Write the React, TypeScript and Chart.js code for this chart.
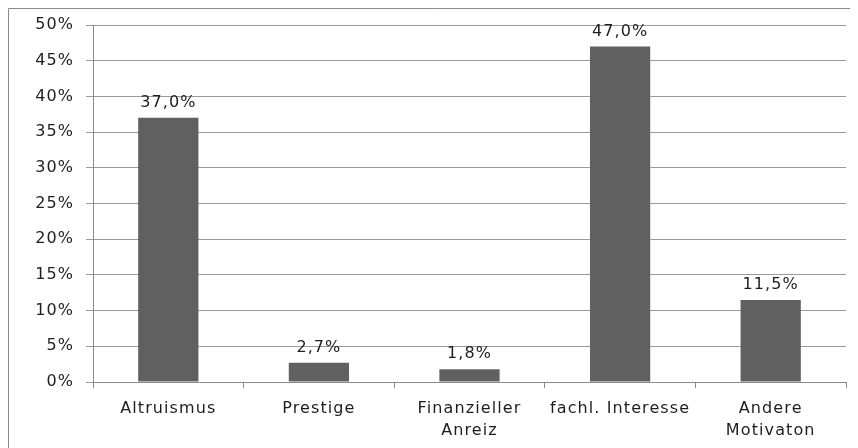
import React, { useEffect, useRef } from "react";
import { Chart, registerables } from "chart.js";

Chart.register(...registerables);

const categories: (string | string[])[] = [
  "Altruismus",
  "Prestige",
  ["Finanzieller", "Anreiz"],
  "fachl. Interesse",
  ["Andere", "Motivaton"],
];
const values: number[] = [37.0, 2.7, 1.8, 47.0, 11.5];
const yMax = 50;
const yStep = 5;

const FONT = "'DejaVu Sans', sans-serif";
const TEXT = "#1e1e1e";
const SPACING = "1.1px";
const SIZE = 16;

const spacingPlugin = {
  id: "spacing",
  beforeUpdate(chart: any) {
    chart.ctx.letterSpacing = SPACING;
  },
  beforeLayout(chart: any) {
    chart.ctx.letterSpacing = SPACING;
  },
  beforeDraw(chart: any) {
    const ctx = chart.ctx;
    ctx.letterSpacing = SPACING;
    ctx.save();
    ctx.strokeStyle = "#8a8a8a";
    ctx.lineWidth = 1;
    ctx.beginPath();
    ctx.moveTo(0.5, chart.height);
    ctx.lineTo(0.5, 0.5);
    ctx.lineTo(chart.width, 0.5);
    ctx.stroke();
    ctx.restore();
  },
};

const labelPlugin = {
  id: "valueLabels",
  afterDatasetsDraw(chart: any) {
    const ctx = chart.ctx;
    const meta = chart.getDatasetMeta(0);
    ctx.save();
    ctx.letterSpacing = SPACING;
    ctx.font = `${SIZE}px ${FONT}`;
    ctx.fillStyle = TEXT;
    ctx.textAlign = "center";
    ctx.textBaseline = "bottom";
    meta.data.forEach((bar: any, i: number) => {
      const txt = values[i].toFixed(1).replace(".", ",") + "%";
      ctx.fillText(txt, bar.x, bar.y - 7);
    });
    ctx.restore();
  },
};

export default function App() {
  const ref = useRef<HTMLCanvasElement>(null);
  useEffect(() => {
    if (!ref.current) return;
    const chart = new Chart(ref.current, {
      type: "bar",
      data: {
        labels: categories,
        datasets: [
          {
            data: values,
            backgroundColor: "#606060",
            borderWidth: 0,
            categoryPercentage: 0.4,
            barPercentage: 1,
          },
        ],
      },
      options: {
        responsive: false,
        animation: false,
        layout: { padding: { top: 17, right: 12, left: 0, bottom: 0 } },
        plugins: { legend: { display: false }, tooltip: { enabled: false } },
        scales: {
          x: {
            grid: {
              offset: true,
              drawOnChartArea: false,
              drawTicks: true,
              tickLength: 6,
              color: "#8a8a8a",
            },
            border: { color: "#8a8a8a" },
            ticks: {
              color: TEXT,
              font: { family: FONT, size: SIZE, lineHeight: 1.35 },
              padding: 10,
              maxRotation: 0,
              autoSkip: false,
            },
            afterFit(scale: any) {
              scale.height = 66;
            },
          },
          y: {
            min: 0,
            max: yMax,
            grid: { color: "#9a9a9a", tickLength: 7 },
            border: { color: "#8a8a8a" },
            ticks: {
              stepSize: yStep,
              color: TEXT,
              font: { family: FONT, size: SIZE },
              padding: 12,
              callback: (v: any) => v + "%",
            },
            afterFit(scale: any) {
              scale.width = 85;
              scale.paddingTop = 0;
            },
          },
        },
      },
      plugins: [spacingPlugin, labelPlugin],
    });
    return () => chart.destroy();
  }, []);
  return <canvas ref={ref} width={850} height={440} style={{ display: "block" }} />;
}
